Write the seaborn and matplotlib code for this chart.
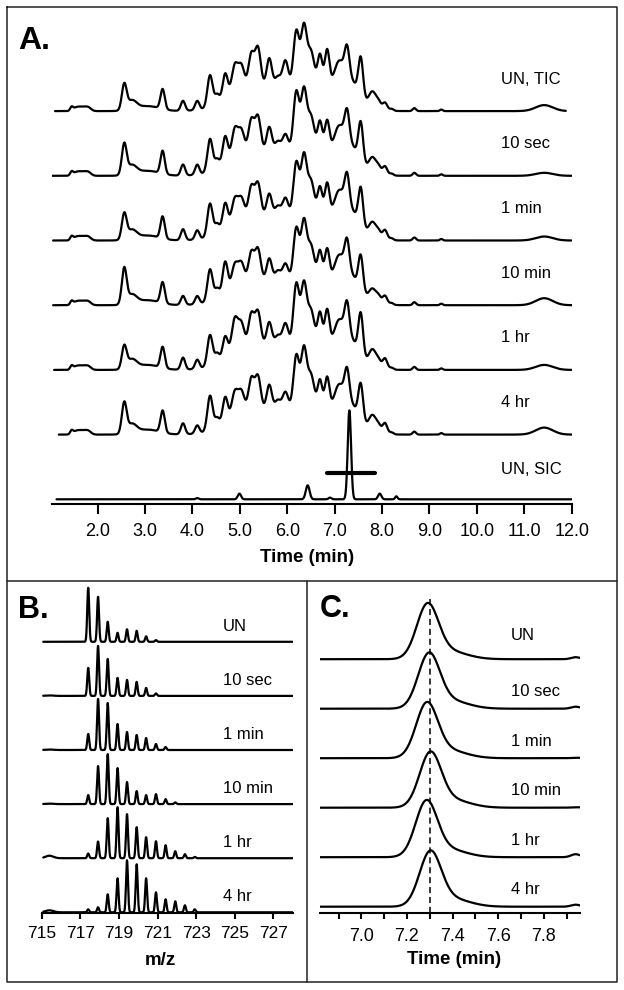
import numpy as np
import matplotlib
matplotlib.use("Agg")
import matplotlib.pyplot as plt
import seaborn as sns

# ---------------- panel A: chromatograms (peak table) ----------------
samples = ["UN, TIC", "10 sec", "1 min", "10 min", "1 hr", "4 hr"]
tic_rt = [2.56, 3.37, 3.80, 4.10, 4.37, 4.69, 4.89, 5.03, 5.24, 5.38, 5.62,
          5.96, 6.19, 6.35, 6.69, 6.84, 7.26, 7.55, 7.80, 8.06, 11.42]
tic_width = [0.05, 0.045, 0.045, 0.045, 0.055, 0.055, 0.065, 0.065, 0.06, 0.06, 0.055,
             0.06, 0.06, 0.06, 0.05, 0.05, 0.05, 0.05, 0.08, 0.05, 0.18]
tic_un = [25, 20, 10, 9, 32, 27, 29, 25, 33, 38, 28, 26, 54, 57, 32, 38, 28, 39, 17, 8, 6]
tic_10s = [30, 23, 11, 10, 33, 29, 30, 25, 32, 34, 24, 17, 58, 58, 30, 32, 29, 39, 16, 9, 3]
tic_1m = [25, 22, 11, 9, 33, 27, 25, 22, 30, 32, 22, 18, 52, 57, 29, 34, 30, 38, 16, 10, 4]
tic_10m = [35, 21, 9, 8, 32, 33, 24, 22, 29, 31, 22, 17, 51, 56, 30, 33, 29, 35, 14, 9, 7]
tic_1h = [22, 21, 12, 9, 31, 23, 34, 26, 32, 33, 23, 22, 60, 58, 33, 37, 31, 42, 18, 11, 5]
tic_4h = [30, 22, 11, 8, 35, 27, 26, 23, 32, 33, 25, 18, 53, 58, 30, 34, 29, 36, 17, 11, 7]
tic_start = [1.10, 1.04, 1.06, 1.06, 1.08, 1.18]
tic_end = [11.88, 12.0, 12.0, 12.0, 12.0, 12.0]

# small features shared by every TIC trace
minor_rt = [1.45, 1.55, 1.68, 1.80, 2.72, 3.05, 4.52, 5.80, 6.50, 7.08, 7.93, 8.20, 8.68, 9.25]
minor_width = [0.03, 0.07, 0.07, 0.06, 0.10, 0.25, 0.05, 0.06, 0.07, 0.10, 0.05, 0.04, 0.035, 0.03]
minor_height = [3.5, 3.5, 3.5, 3.5, 9, 5, 10, 10, 33, 22, 6, 2, 3, 1.5]
# unresolved hump under the peptide envelope
hump_rt = [5.3, 6.5, 7.3]
hump_width = [0.5, 0.55, 0.2]
hump_height = [22, 25, 25]

# selected ion chromatogram
sic_rt = [4.10, 4.99, 6.43, 6.90, 7.31, 7.95, 8.30]
sic_height = [1.3, 5.7, 14, 1.7, 89, 5.7, 3]
sic_width = [0.03, 0.035, 0.04, 0.03, 0.035, 0.035, 0.025]
sic_window = [6.84, 7.85]

# ---------------- panel B: isotope envelopes ----------------
iso_mz = [717.41, 717.92, 718.42, 718.93, 719.42, 719.92, 720.41, 720.92,
          721.42, 721.92, 722.42, 722.93]
ms_un = [54, 45, 20, 9, 12.5, 11, 5.5, 1.7, 0, 0, 0, 0]
ms_10s = [28, 50, 37, 18, 16, 14, 8, 2.5, 0, 0, 0, 0]
ms_1m = [16, 51, 47, 26, 18, 15, 12, 6, 3, 0, 0, 0]
ms_10m = [9, 38, 50, 36, 22, 13, 9, 10, 5, 1.7, 0, 0]
ms_1h = [4.7, 16.7, 40, 51, 44, 31, 21, 17, 13, 7, 4, 1.3]
ms_4h = [3, 5, 18, 34, 52, 48, 34, 20, 13, 11, 7, 3]
ms_low_height = [0, 0.5, 0.5, 0.5, 2.5, 2]
ms_labels = ["UN", "10 sec", "1 min", "10 min", "1 hr", "4 hr"]

# ---------------- panel C: extracted peak ----------------
xic_apex = [7.290, 7.296, 7.287, 7.302, 7.285, 7.302]
xic_height = [52, 52, 52, 52, 53, 52]
xic_tail = [8, 8, 8, 8, 8, 8]
xic_end_bump = [2, 2, 0.5, 0.5, 3, 2]
xic_ref = 7.3


def peaks(x, centers, heights, widths):
    y = np.zeros_like(x)
    for c, h, w in zip(centers, heights, widths):
        y += h * np.exp(-0.5 * ((x - c) / w) ** 2)
    return y


sns.set_style("white")
plt.rcParams["font.family"] = ["Liberation Sans", "DejaVu Sans"]
plt.rcParams["text.color"] = "black"
plt.rcParams["axes.labelcolor"] = "black"
plt.rcParams["xtick.color"] = "black"

W, H = 624, 990
fig = plt.figure(figsize=(W / 100, H / 100), dpi=100)


def px_axes(left, top, right, bottom):
    ax = fig.add_axes([left / W, 1 - bottom / H, (right - left) / W, (bottom - top) / H])
    ax.set_facecolor("none")
    for s in ["top", "left", "right"]:
        ax.spines[s].set_visible(False)
    ax.spines["bottom"].set_linewidth(1.5)
    ax.spines["bottom"].set_color("black")
    ax.set_yticks([])
    ax.set_ylim(0, bottom - top)
    return ax


# outer frames
frame = fig.add_axes([0, 0, 1, 1], zorder=-1)
frame.set_xlim(0, W)
frame.set_ylim(H, 0)
frame.axis("off")
frame.plot([7, 617, 617, 7, 7], [7, 7, 982, 982, 7], color="#222222", lw=1.1)
frame.plot([7, 617], [581, 581], color="#222222", lw=1.1)
frame.plot([307, 307], [581, 982], color="#222222", lw=1.1)

line_kw = dict(color="black", lw=1.6, estimator=None, sort=False)

# ---- A ----
axA = px_axes(51.7, 20, 571.7, 504.3)
axA.set_xlim(1.03, 12.0)
t = np.arange(1.0, 12.0001, 0.004)
tic_all = [tic_un, tic_10s, tic_1m, tic_10m, tic_1h, tic_4h]
for k, (name, hts) in enumerate(zip(samples, tic_all)):
    off = 5 + 64.7 * (6 - k)
    x = t[(t >= tic_start[k]) & (t <= tic_end[k])]
    y = (peaks(x, tic_rt, hts, tic_width) + peaks(x, minor_rt, minor_height, minor_width)
         + peaks(x, hump_rt, hump_height, hump_width))
    sns.lineplot(x=x, y=y + off, ax=axA, **line_kw)
    axA.text(10.5, off + 32, name, fontsize=12, va="center")

x = t[t >= 1.13]
sns.lineplot(x=x, y=peaks(x, sic_rt, sic_height, sic_width) + 5, ax=axA, **line_kw)
axA.plot(sic_window, [31.6, 31.6], color="black", lw=3)
axA.text(10.5, 5 + 30, "UN, SIC", fontsize=12, va="center")

axA.set_xticks(np.arange(2, 13))
axA.set_xticklabels([f"{v:.1f}" for v in np.arange(2, 13)])
axA.tick_params(axis="x", direction="out", length=7.5, width=1.5, pad=6, labelsize=13, bottom=True)
axA.set_xlabel("Time (min)", fontsize=13.5, fontweight="bold", va="center")
axA.xaxis.set_label_coords((307 - 51.7) / 520, -(558 - 504.3) / (504.3 - 20))

# ---- B ----
axB = px_axes(41.7, 583, 292.6, 913.3)
axB.set_xlim(715, 728)
mz = np.arange(715.08, 728.0001, 0.002)
ms_all = [ms_un, ms_10s, ms_1m, ms_10m, ms_1h, ms_4h]
for k, (name, hts) in enumerate(zip(ms_labels, ms_all)):
    off = 1 + 54.1 * (5 - k)
    y = peaks(mz, iso_mz, hts, [0.05] * len(iso_mz)) + peaks(mz, [715.4], [ms_low_height[k]], [0.2])
    sns.lineplot(x=mz, y=y + off, ax=axB, **line_kw)
    axB.text(724.4, off + 15.5, name, fontsize=12, va="center")
axB.set_xticks(np.arange(715, 728, 2))
axB.tick_params(axis="x", direction="out", length=4, width=1.5, pad=5, labelsize=12.5, bottom=True)
axB.set_xlabel("m/z", fontsize=13.5, fontweight="bold", va="center")
axB.xaxis.set_label_coords((160 - 41.7) / 250.9, -(960.7 - 913.3) / (913.3 - 583))

# ---- C ----
axC = px_axes(320.3, 590, 580.2, 912.7)
axC.set_xlim(6.82, 7.96)
rt = np.arange(6.82, 7.96, 0.002)
for k, name in enumerate(ms_labels):
    off = 6 + 49.5 * (5 - k)
    y = peaks(rt, [xic_apex[k], xic_apex[k] + 0.09, 7.94],
              [xic_height[k], xic_tail[k], xic_end_bump[k]], [0.047, 0.08, 0.02])
    sns.lineplot(x=rt, y=y + off, ax=axC, **line_kw)
    axC.text(7.655, off + (24 if k == 0 else 17), name, fontsize=12, va="center")
axC.plot([xic_ref, xic_ref], [0, 6 + 49.5 * 5 + 60], color="black", lw=1.1, ls=(0, (4, 2.5)))
axC.set_xticks(np.arange(7.0, 7.81, 0.2))
axC.set_xticklabels([f"{v:.1f}" for v in np.arange(7.0, 7.81, 0.2)])
axC.set_xticks(np.arange(6.9, 7.91, 0.2), minor=True)
axC.tick_params(axis="x", which="both", direction="out", length=4, width=1.5, pad=7, labelsize=13, bottom=True)
axC.set_xlabel("Time (min)", fontsize=13.5, fontweight="bold", va="center")
axC.xaxis.set_label_coords((454 - 320.3) / 259.9, -(960 - 912.7) / (912.7 - 590))

# panel letters
fig.text(18 / W, 1 - 41 / H, "A.", fontsize=23, fontweight="bold", va="center")
fig.text(18 / W, 1 - 610 / H, "B.", fontsize=22, fontweight="bold", va="center")
fig.text(320 / W, 1 - 609 / H, "C.", fontsize=22, fontweight="bold", va="center")

fig.savefig("out.png", dpi=100)
